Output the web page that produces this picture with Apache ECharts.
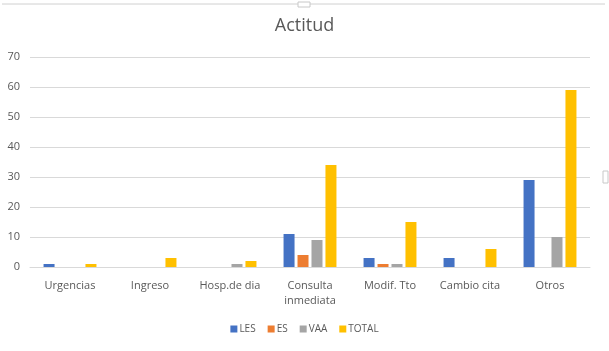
<!DOCTYPE html>
<html>
<head>
<meta charset="utf-8">
<script src="https://cdn.jsdelivr.net/npm/echarts@6/dist/echarts.min.js"></script>
<style>html,body{margin:0;padding:0;background:#fff}#c{width:609px;height:351px}</style>
</head>
<body>
<div id="c"></div>
<script>
const categories = ['Urgencias', 'Ingreso', 'Hosp.de dia', 'Consulta\ninmediata', 'Modif. Tto', 'Cambio cita', 'Otros'];
const seriesNames = ['LES', 'ES', 'VAA', 'TOTAL'];
const LES = [1, 0, 0, 11, 3, 3, 29];
const ES = [0, 0, 0, 4, 1, 0, 0];
const VAA = [0, 0, 1, 9, 1, 0, 10];
const TOTAL = [1, 3, 2, 34, 15, 6, 59];
const yTicks = [0, 10, 20, 30, 40, 50, 60, 70];

const colors = ['#4472C4', '#ED7D31', '#A5A5A5', '#FFC000'];
const dataSets = [LES, ES, VAA, TOTAL];
const font = 'Open Sans, Liberation Sans, sans-serif';

const chart = echarts.init(document.getElementById('c'));
chart.setOption({
  animation: false,
  color: colors,
  title: {
    text: 'Actitud', left: 'center', top: 12,
    textStyle: { color: '#595959', fontSize: 18, fontWeight: 'normal', fontFamily: font }
  },
  legend: {
    bottom: 12, left: 'center', itemWidth: 7, itemHeight: 7, itemGap: 12,
    icon: 'rect',
    textStyle: { color: '#595959', fontSize: 10, fontFamily: font, padding: [0, 0, 0, -3] },
    data: seriesNames
  },
  grid: { left: 30, right: 19, top: 57, bottom: 84 },
  xAxis: {
    type: 'category', data: categories,
    axisLine: { lineStyle: { color: '#d9d9d9' } },
    axisTick: { show: false },
    axisLabel: { color: '#595959', fontSize: 11, fontFamily: font, margin: 11, lineHeight: 15 }
  },
  yAxis: {
    type: 'value', min: yTicks[0], max: yTicks[yTicks.length - 1], interval: 10,
    axisLine: { show: false }, axisTick: { show: false },
    axisLabel: { color: '#595959', fontSize: 11, fontFamily: font, margin: 10 },
    splitLine: { lineStyle: { color: '#d9d9d9' } }
  },
  graphic: [
    { type: 'line', shape: { x1: 2, y1: 4, x2: 605, y2: 4 }, style: { stroke: '#d0d0d0', lineWidth: 1 } },
    { type: 'rect', shape: { x: 298, y: 2, width: 12, height: 5 }, style: { fill: '#fff', stroke: '#c8c8c8', lineWidth: 1 } },
    { type: 'rect', shape: { x: 603, y: 171, width: 5, height: 12 }, style: { fill: '#fff', stroke: '#c8c8c8', lineWidth: 1 } }
  ],
  series: seriesNames.map((n, i) => ({
    name: n, type: 'bar', data: dataSets[i],
    barWidth: 11, barGap: '27%'
  }))
});
</script>
</body>
</html>
